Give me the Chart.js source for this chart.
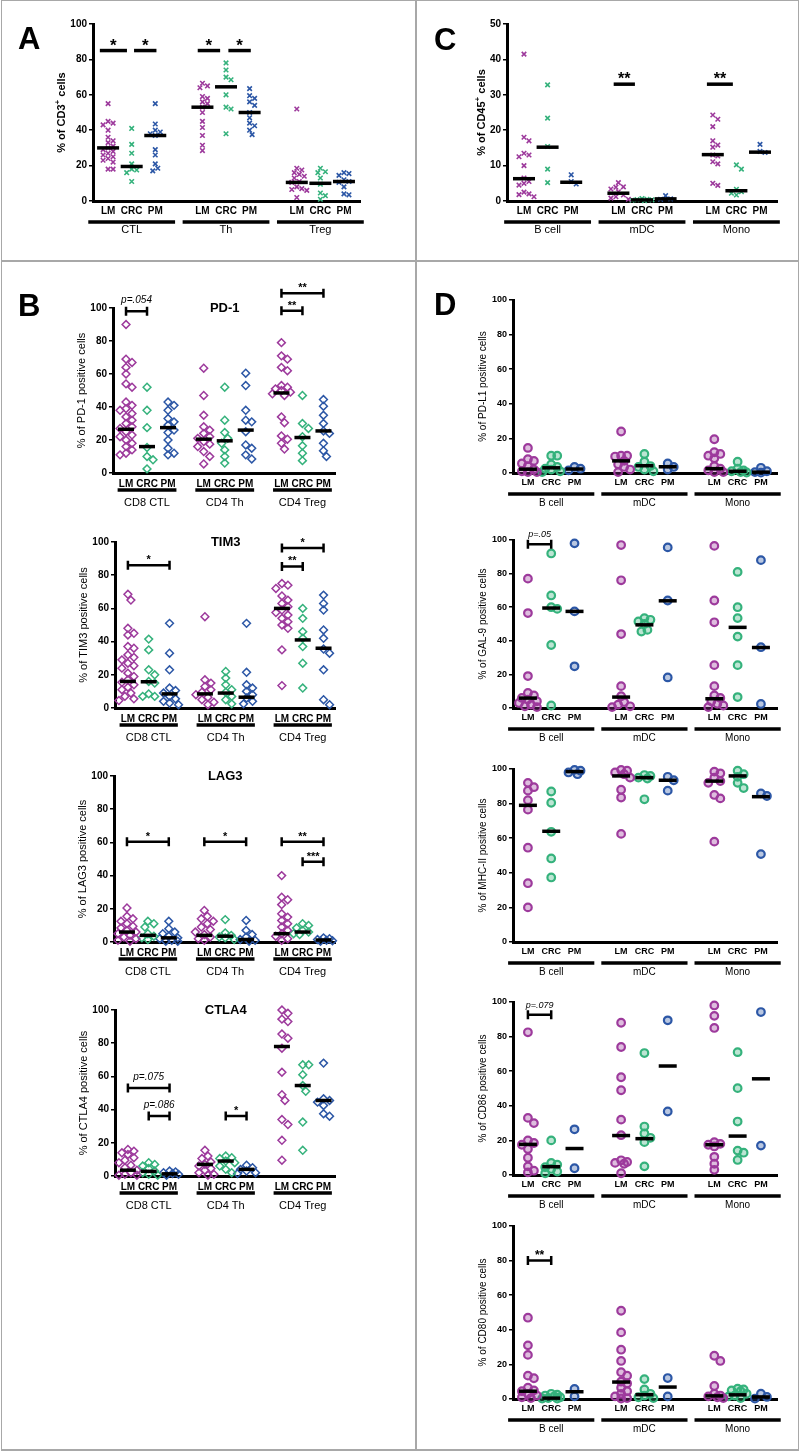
<!DOCTYPE html>
<html>
<head>
<meta charset="utf-8">
<script src="https://cdn.jsdelivr.net/npm/chart.js@4.4.0/dist/chart.umd.min.js"></script>
<style>
  body { margin: 0; background: #fff; width: 800px; height: 1452px; position: relative; overflow: hidden; font-family: 'Liberation Sans', Arial, sans-serif; }
  canvas { position: absolute; }
  .rule { position: absolute; background: #a8a8a8; z-index: 5; }
  .letter { position: absolute; font: bold 31px 'Liberation Sans', Arial, sans-serif; line-height: 1; z-index: 6; }
</style>
</head>
<body>
<div class="rule" style="left:1px;top:0;width:1px;height:1451px"></div>
<div class="rule" style="left:798px;top:0;width:1px;height:1451px"></div>
<div class="rule" style="left:1px;top:0;width:798px;height:1px"></div>
<div class="rule" style="left:1px;top:1449px;width:798px;height:2px"></div>
<div class="rule" style="left:415px;top:0;width:2px;height:1451px"></div>
<div class="rule" style="left:1px;top:260px;width:798px;height:2px"></div>
<div class="letter" style="left:18px;top:23px">A</div>
<div class="letter" style="left:18px;top:290px">B</div>
<div class="letter" style="left:434px;top:24px">C</div>
<div class="letter" style="left:434px;top:289px">D</div>

<script>
// categories
const sites = ['LM', 'CRC', 'PM'];
const siteColors = ['#9d3a9c', '#35b27c', '#2c57a6'];
const groupsA = ['CTL', 'Th', 'Treg'];
const groupsB = ['CD8 CTL', 'CD4 Th', 'CD4 Treg'];
const groupsD = ['B cell', 'mDC', 'Mono'];

// category positions on the x axis (LM, CRC, PM for each group)
const posWide = [0, 1, 2, 4, 5, 6, 8, 9, 10];
const posNarrow = [0, 1, 2, 3.7, 4.7, 5.7, 7.4, 8.4, 9.4];

// ---- A : % of CD3+ cells
const cd3Values = [
  [55, 45, 44, 43, 40, 36, 34, 33, 31, 30, 29, 28, 27, 26, 25, 24, 23, 22, 18, 18],
  [41, 32, 27, 21, 18, 17.5, 16, 11],
  [55, 43.5, 40, 39, 38, 37, 29, 26, 21, 18.5, 17],
  [66.5, 65, 64, 59, 58, 56, 55, 53, 50, 45, 41.5, 37, 31.5, 28.5],
  [78, 74, 70, 68.5, 60, 53, 52, 38],
  [63.5, 59.5, 58, 56, 54, 50, 47, 44, 42.5, 40, 37.5],
  [52, 18.5, 17.5, 16, 15, 14, 13, 11, 10.5, 8, 7, 6.5, 6, 2],
  [18.5, 16.5, 16, 13, 9.5, 4.5, 3, 1],
  [16, 15.5, 14.5, 12, 11, 10.5, 8, 4, 3.5]
];
const cd3Medians = [30, 19.5, 37, 53, 64.5, 50, 10.5, 10, 11];
const cd3Sig = [[-0.35, 0.8, 85, '*'], [1.1, 2.05, 85, '*'], [3.8, 4.75, 85, '*'], [5.1, 6.05, 85, '*']];

// ---- C : % of CD45+ cells
const cd45Values = [
  [41.5, 18, 17, 13.5, 13, 12.5, 10, 6.5, 5.5, 5, 4.5, 2.5, 2, 1.8, 1.2],
  [32.8, 23.4, 15.4, 9, 5.2],
  [7.4, 5.5, 4.8],
  [5.2, 4, 3.9, 3.4, 2.6, 1.7, 1.2, 0.8, 0.5],
  [0.7, 0.5, 0.4, 0.3, 0.2, 0.1],
  [1.5, 0.6, 0.5],
  [24.3, 23.1, 21, 17, 15.8, 15.2, 13, 12.7, 11.1, 10.5, 5, 4.4],
  [10.2, 9, 3.3, 2.6, 2.2, 1.7],
  [16, 14, 13.7]
];
const cd45Medians = [6.3, 15.2, 5.3, 2.2, 0.3, 0.6, 13.1, 2.9, 13.8];
const cd45Sig = [[3.8, 4.7, 33, '**'], [7.75, 8.85, 33, '**']];

// ---- B : checkpoint receptors on T cells
const pd1Values = [
  [90, 69, 67, 64, 60, 54, 52, 43, 41, 39, 38, 36, 34, 32, 30, 28, 27, 25, 23, 22, 20, 18, 16, 14, 12, 11],
  [52, 38, 27.5, 15.5, 10, 8, 2.5],
  [43, 41, 38, 33, 31, 29, 26, 24.5, 20, 15, 12, 11],
  [63.5, 47, 35, 28, 26, 24, 22, 21, 19, 17.5, 16, 13, 10, 5.5],
  [52, 32, 24.5, 21, 18, 14, 10, 6],
  [60.5, 53, 38, 32, 31, 25, 17, 15, 11, 8.5],
  [79, 71, 69, 64, 62, 53, 52, 51, 50, 49, 48, 47, 34, 30.5, 22.5, 20.5, 18, 14.5],
  [47, 30, 27, 22, 16.5, 12, 7.5],
  [44.5, 40.5, 35, 30, 25.5, 24, 18, 13.5, 10]
];
const pd1Medians = [26.5, 16, 27.5, 20.5, 19.5, 26, 48.5, 21.5, 25.5];
const pd1Sig = [[0, 1, 98, 'p=.054'], [7.4, 8.4, 98.4, '**'], [7.4, 9.4, 109, '**']];

const tim3Values = [
  [68.5, 65, 48, 45, 44, 37, 36, 32, 30.5, 29, 27, 25.5, 24, 21, 19, 17, 15.5, 14, 12.5, 11, 9, 7, 5.5, 4.5],
  [41.5, 35, 23, 20, 16, 15, 8.5, 7, 7],
  [51, 33, 23, 12, 10.5, 9, 7, 5.5, 4, 3, 2],
  [55, 17, 15, 13, 11, 9.5, 8, 6.5, 5, 3.5, 2],
  [22, 18, 14, 11, 9.5, 7, 5, 2.5],
  [51, 21.5, 14, 12, 10, 8, 6, 4, 2.5],
  [75, 74, 72, 67.5, 65, 63, 61, 59, 57.5, 56, 54, 52, 50, 48, 35, 13.5],
  [60, 54, 46, 42, 37, 27, 12],
  [68, 63, 59, 47, 42, 35.5, 33, 23, 5, 2]
];
const tim3Medians = [16, 15.8, 8.5, 8.5, 9, 6.5, 60, 41, 36];
const tim3Sig = [[0, 2, 86, '*'], [7.4, 8.4, 85.3, '**'], [7.4, 9.4, 96.4, '*']];

const lag3Values = [
  [20.5, 15.5, 14, 12.5, 11, 9.5, 8.5, 7, 6, 5, 4, 3, 2, 1, 0.5],
  [12.5, 11, 9, 5, 3.5, 2.5, 1.5],
  [12.5, 8, 6, 5, 3.5, 2.5, 2, 1, 0.5, 0.5],
  [19, 15.5, 14, 12.5, 11, 9, 7.5, 6, 4.5, 3, 2, 1],
  [13.5, 5.5, 4, 3, 2.5, 1.5],
  [13, 7, 4.5, 3, 1.5, 1, 0.5],
  [40, 27, 25.5, 22.5, 17, 15, 13, 11, 9, 7, 5, 3.5, 2, 1],
  [11, 10, 8.5, 7, 6, 5, 4.5],
  [2.5, 2, 1.5, 1, 0.8, 0.5]
];
const lag3Medians = [6, 4, 2.5, 4, 3.5, 1.5, 5, 6, 1.2];
const lag3Sig = [[0, 2, 60.4, '*'], [3.7, 5.7, 60.4, '*'], [7.4, 9.4, 60.4, '**'], [8.4, 9.4, 48.3, '***']];

const ctla4Values = [
  [16, 15, 14, 13, 11, 9.5, 8, 6.5, 5, 3.5, 2, 1, 0.5, 0.5],
  [8, 7, 6, 4.5, 3, 2, 1, 0.5],
  [3, 2.5, 2, 1.5, 1, 0.5],
  [15.5, 12, 10.5, 8.5, 7, 6, 4.5, 3.5, 2, 1, 0.5],
  [12, 11, 10.5, 9, 8, 6, 4, 2],
  [6.5, 5, 4, 3, 2, 1.5],
  [100, 98, 94.5, 93, 85.5, 83, 77, 62.5, 49, 45.5, 34, 31, 21.5, 9.5],
  [67, 67, 61, 54.5, 51, 32.5, 15.5],
  [68, 46.5, 45.5, 44.5, 42.5, 37.5, 36]
];
const ctla4Medians = [3.5, 2.8, 1.3, 7, 9, 4, 78, 54.5, 45.5];
const ctla4Sig = [[0, 2, 53, 'p=.075'], [1, 2, 36.2, 'p=.086'], [4.7, 5.7, 36.2, '*']];

// ---- D : ligands on APCs
const pdl1Values = [
  [14.5, 8, 7, 5.5, 4, 2, 1, 0.5, 0.5],
  [10, 10, 5, 3.5, 2.5, 2, 1, 0.5],
  [3.5, 2.5, 1.5],
  [24, 10, 10, 9.5, 7, 5, 3.5, 2, 0.5],
  [11, 6.5, 4, 3.5, 2, 1],
  [5.5, 3.5, 2],
  [19.5, 12, 11, 10, 8.5, 4, 2.5, 1.5, 0.5, 0.5],
  [6.5, 2.5, 1.5, 1, 0.5, 0.3],
  [3, 1, 0.5, 0.2]
];
const pdl1Medians = [2.2, 3, 2.3, 7, 4.2, 3.6, 2.5, 1, 0.5];

const gal9Values = [
  [77, 56.5, 19, 9, 7.5, 6, 5, 4, 3, 2, 1, 0.5],
  [92, 67, 60, 59, 37.5, 1.5],
  [98, 57.5, 24.8],
  [97, 76, 44, 13, 7, 3.5, 2, 1, 0.5],
  [53.5, 52.5, 51.5, 50, 46.5, 45.5],
  [95.6, 64, 18.2],
  [96.5, 64, 51, 25.5, 13, 7.5, 6, 4, 2.5, 1.5, 0.5],
  [81, 60, 53.5, 42.5, 25.5, 6.5],
  [88, 36.2, 2.4]
];
const gal9Medians = [5.9, 59.5, 57.5, 6.5, 49.5, 63.8, 5.5, 48, 36];
const gal9Sig = [[0, 1, 97.4, 'p=.05']];

const mhc2Values = [
  [92, 89.5, 87.5, 82, 76.5, 54.5, 34, 20],
  [87, 80.5, 63.7, 48.3, 37.3],
  [99.5, 99, 98, 97],
  [99.5, 99, 98, 97, 95, 88, 83.5, 62.5],
  [96.5, 96, 95, 94.5, 82.5],
  [95.5, 93.5, 87.5],
  [98.5, 97.5, 95, 93, 92, 85, 83, 58],
  [99, 97, 95.5, 92, 89],
  [85.9, 84.4, 50.8]
];
const mhc2Medians = [79, 64, 98.5, 96, 95, 93.5, 93, 96, 84];

const cd86Values = [
  [82.5, 33, 30, 20, 18.5, 17.5, 15, 10, 5, 2.5, 1.5],
  [20, 7, 6, 4.5, 3.5, 2, 1],
  [26.4, 3.9],
  [88, 74, 56.5, 49, 32, 23, 8.5, 7.5, 7, 6.5, 1],
  [70.5, 28, 24, 21.5, 19, 5],
  [89.4, 36.7],
  [98, 92, 85, 19, 18, 17.5, 16.5, 10.5, 6.5, 3],
  [71, 50.2, 30.9, 14.1, 12.9, 8.7],
  [94.2, 17]
];
const cd86Medians = [17.7, 4.8, 15.3, 22.8, 21, 63, 17.5, 22.5, 55.6];
const cd86Sig = [[0, 1, 92.7, 'p=.079']];

const cd80Values = [
  [47, 31, 25.5, 13.5, 12, 6.5, 5, 4.5, 3, 2, 1, 0.5],
  [3, 2.5, 2, 1.5, 1, 0.5, 0.3, 0.2],
  [5.8, 1.5],
  [51, 38.5, 28.5, 22, 15.5, 13.5, 10, 9, 6.5, 4.5, 3, 1.5, 0.5, 0.3],
  [11.5, 5.5, 3, 2, 1, 0.5],
  [12.1, 1.5],
  [25, 22, 7.5, 3, 2, 1.5, 1, 0.5],
  [6, 5.5, 5, 4.5, 3, 2, 1.5, 0.5],
  [3.1, 1.2, 0.2]
];
const cd80Medians = [4.5, 0.5, 4.2, 9.8, 2.5, 6.9, 1.8, 2.4, 1.2];
const cd80Sig = [[0, 1, 80, '**']];

// ---- look per panel
const SANS = "'Liberation Sans', Arial, sans-serif";
const NARROW = "'Liberation Sans Narrow', 'Liberation Sans', Arial, sans-serif";
const looks = {
  A: { pos: posWide, xmin: -0.64, xmax: 10.68, marker: 'crossRot', r: 3.2, bw: 1.6, fill: false, med: 11, caps: false,
       family: SANS, tick: 10, catFont: 'bold 10px ' + SANS, groupFont: '11px ' + SANS, titleW: 'bold', titleSize: 11,
       titleDx: 31, half: 1.84, catDy: 10, lineDy: 21, groupDy: 29, starFont: 'bold 17px ' + SANS, starDy: 0,
       dmin: 5, cap: 10 },
  C: { pos: posWide, xmin: -0.72, xmax: 10.72, marker: 'crossRot', r: 3.2, bw: 1.6, fill: false, med: 11, caps: false,
       family: SANS, tick: 10, catFont: 'bold 10px ' + SANS, groupFont: '11px ' + SANS, titleW: 'bold', titleSize: 11,
       titleDx: 25, half: 1.84, catDy: 10, lineDy: 21, groupDy: 29, starFont: 'bold 16px ' + SANS, starDy: 0,
       dmin: 5, cap: 10 },
  B: { pos: posNarrow, xmin: -0.62, xmax: 9.95, marker: 'rectRot', r: 3.9, bw: 1.5, fill: false, med: 8, caps: true,
       family: SANS, tick: 10, catFont: 'bold 10px ' + SANS, groupFont: '11px ' + SANS, titleW: 'normal', titleSize: 11,
       titleDx: 31, half: 1.4, catDy: 11, lineDy: 17, groupDy: 30, starFont: 'bold 11px ' + SANS, starDy: 2,
       pFont: 'italic 10px ' + SANS, pDy: 8, dmin: 6, cap: 9 },
  D: { pos: posWide, xmin: -0.64, xmax: 10.69, marker: 'circle', r: 3.8, bw: 2.2, fill: true, med: 9, caps: true,
       family: NARROW, tick: 9, catFont: 'bold 9px ' + NARROW, groupFont: '10px ' + SANS, titleW: 'normal', titleSize: 10,
       titleDx: 30, half: 1.85, catDy: 10, lineDy: 21, groupDy: 30, starFont: 'bold 12px ' + SANS, starDy: 2,
       pFont: 'italic 9px ' + SANS, pDy: 7, dmin: 6, cap: 9 }
};

// ---- where each chart sits on the page
const charts = [
  { look: 'A', values: cd3Values, medians: cd3Medians, sig: cd3Sig, title: '% of CD3^+ cells', yMax: 100, step: 20, groups: groupsA, axisX: 93, right: 360, yTop: 24, yBottom: 201 },
  { look: 'C', values: cd45Values, medians: cd45Medians, sig: cd45Sig, title: '% of CD45^+ cells', yMax: 50, step: 10, groups: groupsD, axisX: 507, right: 777, yTop: 24, yBottom: 201 },
  { look: 'B', name: 'PD-1', values: pd1Values, medians: pd1Medians, sig: pd1Sig, title: '% of PD-1 positive cells', yMax: 100, step: 20, groups: groupsB, axisX: 113, right: 335, yTop: 308, yBottom: 473 },
  { look: 'B', name: 'TIM3', values: tim3Values, medians: tim3Medians, sig: tim3Sig, title: '% of TIM3 positive cells', yMax: 100, step: 20, groups: groupsB, axisX: 115, right: 335, yTop: 542, yBottom: 708 },
  { look: 'B', name: 'LAG3', values: lag3Values, medians: lag3Medians, sig: lag3Sig, title: '% of LAG3 positive cells', yMax: 100, step: 20, groups: groupsB, axisX: 114, right: 335, yTop: 776, yBottom: 942 },
  { look: 'B', name: 'CTLA4', values: ctla4Values, medians: ctla4Medians, sig: ctla4Sig, title: '% of CTLA4 positive cells', yMax: 100, step: 20, groups: groupsB, axisX: 115, right: 335, yTop: 1010, yBottom: 1176 },
  { look: 'D', values: pdl1Values, medians: pdl1Medians, sig: [], title: '% of PD-L1 positive cells', yMax: 100, step: 20, groups: groupsD, axisX: 513, right: 777, yTop: 300, yBottom: 473 },
  { look: 'D', values: gal9Values, medians: gal9Medians, sig: gal9Sig, title: '% of GAL-9 positive cells', yMax: 100, step: 20, groups: groupsD, axisX: 513, right: 777, yTop: 540, yBottom: 708 },
  { look: 'D', values: mhc2Values, medians: mhc2Medians, sig: [], title: '% of MHC-II positive cells', yMax: 100, step: 20, groups: groupsD, axisX: 513, right: 777, yTop: 769, yBottom: 942 },
  { look: 'D', values: cd86Values, medians: cd86Medians, sig: cd86Sig, title: '% of CD86 positive cells', yMax: 100, step: 20, groups: groupsD, axisX: 513, right: 777, yTop: 1002, yBottom: 1175 },
  { look: 'D', values: cd80Values, medians: cd80Medians, sig: cd80Sig, title: '% of CD80 positive cells', yMax: 100, step: 20, groups: groupsD, axisX: 513, right: 777, yTop: 1226, yBottom: 1399 }
];

// deterministic beeswarm: x offsets (px) within +-cap, overlap allowed when crowded
function swarm(vals, pxPerY, dmin, cap) {
  const order = vals.map((v, i) => i).sort((a, b) => vals[b] - vals[a]);
  const placed = [];
  const offs = new Array(vals.length).fill(0);
  const step = dmin * 0.5;
  const cands = [0];
  for (let k = 1; k * step <= cap; k++) { cands.push(k * step, -k * step); }
  order.forEach(i => {
    const yy = vals[i] * pxPerY;
    let best = 0, bestD = -1;
    for (const c of cands) {
      const d = placed.length ? Math.min(...placed.map(p => Math.hypot(p.x - c, p.y - yy))) : Infinity;
      if (d >= dmin) { best = c; bestD = Infinity; break; }
      if (d > bestD) { bestD = d; best = c; }
    }
    placed.push({ x: best, y: yy });
    offs[i] = best;
  });
  return offs;
}

// y-axis title with a superscript after '^'
function drawSup(ctx, text, weight, size, family) {
  const parts = text.split('^');
  const pieces = [[parts[0], false]];
  for (let k = 1; k < parts.length; k++) {
    pieces.push([parts[k][0], true]);
    pieces.push([parts[k].slice(1), false]);
  }
  const f = sup => `${weight} ${sup ? Math.round(size * 0.7) : size}px ${family}`;
  let w = 0;
  pieces.forEach(([t, sup]) => { ctx.font = f(sup); w += ctx.measureText(t).width; });
  let cx = -w / 2;
  ctx.textAlign = 'left';
  pieces.forEach(([t, sup]) => {
    ctx.font = f(sup);
    ctx.fillText(t, cx, sup ? -size * 0.35 : 0);
    cx += ctx.measureText(t).width;
  });
  ctx.textAlign = 'center';
}

// labels under the axis, y title, chart name and significance bars
const decor = {
  id: 'decor',
  afterDatasetsDraw(chart, args, o) {
    const { ctx, chartArea: a, scales: { x, y } } = chart;
    ctx.save();
    ctx.fillStyle = '#000';
    ctx.strokeStyle = '#000';
    ctx.textAlign = 'center';
    ctx.textBaseline = 'middle';
    ctx.font = o.catFont;
    o.pos.forEach((p, i) => ctx.fillText(sites[i % 3], x.getPixelForValue(p), a.bottom + o.catDy));
    o.groups.forEach((g, j) => {
      const c = o.pos[j * 3 + 1];
      const x0 = x.getPixelForValue(c - o.half), x1 = x.getPixelForValue(c + o.half);
      ctx.lineWidth = 3.5;
      ctx.beginPath();
      ctx.moveTo(x0, a.bottom + o.lineDy);
      ctx.lineTo(x1, a.bottom + o.lineDy);
      ctx.stroke();
      ctx.font = o.groupFont;
      ctx.fillText(g, (x0 + x1) / 2, a.bottom + o.groupDy);
    });

    ctx.save();
    ctx.translate(a.left - o.titleDx, (a.top + a.bottom) / 2);
    ctx.rotate(-Math.PI / 2);
    drawSup(ctx, o.yTitle, o.titleW, o.titleSize, SANS);
    ctx.restore();

    if (o.name) {
      ctx.font = 'bold 13px ' + SANS;
      ctx.fillText(o.name, x.getPixelForValue(o.pos[4]), y.getPixelForValue(y.max));
    }

    o.sig.forEach(([p0, p1, v, t]) => {
      const x0 = x.getPixelForValue(p0), x1 = x.getPixelForValue(p1), yy = y.getPixelForValue(v);
      ctx.lineWidth = o.caps ? 2.5 : 3.5;
      ctx.beginPath();
      ctx.moveTo(x0, yy);
      ctx.lineTo(x1, yy);
      if (o.caps) {
        ctx.moveTo(x0, yy - 4.5); ctx.lineTo(x0, yy + 4.5);
        ctx.moveTo(x1, yy - 4.5); ctx.lineTo(x1, yy + 4.5);
      }
      ctx.stroke();
      const isP = t[0] === 'p';
      ctx.font = isP ? o.pFont : o.starFont;
      ctx.textBaseline = 'alphabetic';
      ctx.fillText(t, (x0 + x1) / 2, yy - (isP ? o.pDy : o.starDy));
      ctx.textBaseline = 'middle';
    });
    ctx.restore();
  }
};

charts.forEach(spec => {
  const L = looks[spec.look];
  const left = spec.axisX < 400 ? 4 : 420;
  const width = spec.axisX < 400 ? 408 : 376;
  const top = spec.yTop - 42;
  const height = spec.yBottom + 42 - top;

  const cv = document.createElement('canvas');
  cv.width = width;
  cv.height = height;
  cv.style.left = left + 'px';
  cv.style.top = top + 'px';
  document.body.appendChild(cv);

  const pxPerY = (spec.yBottom - spec.yTop) / spec.yMax;
  const pxPerX = (spec.right - spec.axisX) / (L.xmax - L.xmin);

  const datasets = [{
    data: spec.medians.map((m, i) => ({ x: L.pos[i], y: m })),
    pointStyle: 'line', pointRadius: L.med, pointBorderWidth: 3.5,
    borderColor: '#000', backgroundColor: '#000', clip: false
  }];
  sites.forEach((s, si) => {
    const pts = [];
    spec.values.forEach((vals, i) => {
      if (i % 3 !== si) return;
      const offs = swarm(vals, pxPerY, L.dmin, L.cap);
      vals.forEach((v, k) => pts.push({ x: L.pos[i] + offs[k] / pxPerX, y: v }));
    });
    datasets.push({
      data: pts,
      pointStyle: L.marker, pointRadius: L.r, pointBorderWidth: L.bw,
      borderColor: siteColors[si],
      backgroundColor: L.fill ? siteColors[si] + '55' : 'rgba(0,0,0,0)',
      clip: false
    });
  });

  new Chart(cv, {
    type: 'scatter',
    data: { datasets },
    options: {
      responsive: false,
      animation: false,
      devicePixelRatio: 1,
      events: [],
      layout: { padding: { top: spec.yTop - top, right: left + width - spec.right, left: 0, bottom: 0 } },
      plugins: {
        legend: { display: false },
        tooltip: { enabled: false },
        decor: {
          pos: L.pos, groups: spec.groups, catFont: L.catFont, groupFont: L.groupFont,
          catDy: L.catDy, lineDy: L.lineDy, groupDy: L.groupDy, half: L.half,
          yTitle: spec.title, titleW: L.titleW, titleSize: L.titleSize, titleDx: L.titleDx,
          name: spec.name, sig: spec.sig, caps: L.caps,
          starFont: L.starFont, starDy: L.starDy, pFont: L.pFont, pDy: L.pDy
        }
      },
      scales: {
        x: {
          type: 'linear', min: L.xmin, max: L.xmax,
          grid: { display: false },
          border: { display: true, width: 3, color: '#000' },
          ticks: { display: false },
          afterFit: s => { s.height = top + height - spec.yBottom; }
        },
        y: {
          min: 0, max: spec.yMax,
          ticks: { stepSize: spec.step, color: '#000', padding: 2, font: { family: L.family, size: L.tick, weight: 'bold' } },
          grid: { drawOnChartArea: false, drawTicks: true, tickLength: 4, color: '#000', lineWidth: 1.5 },
          border: { display: true, width: 3, color: '#000' },
          afterFit: s => { s.width = spec.axisX - left; }
        }
      }
    },
    plugins: [decor]
  });
});
</script>
</body>
</html>
